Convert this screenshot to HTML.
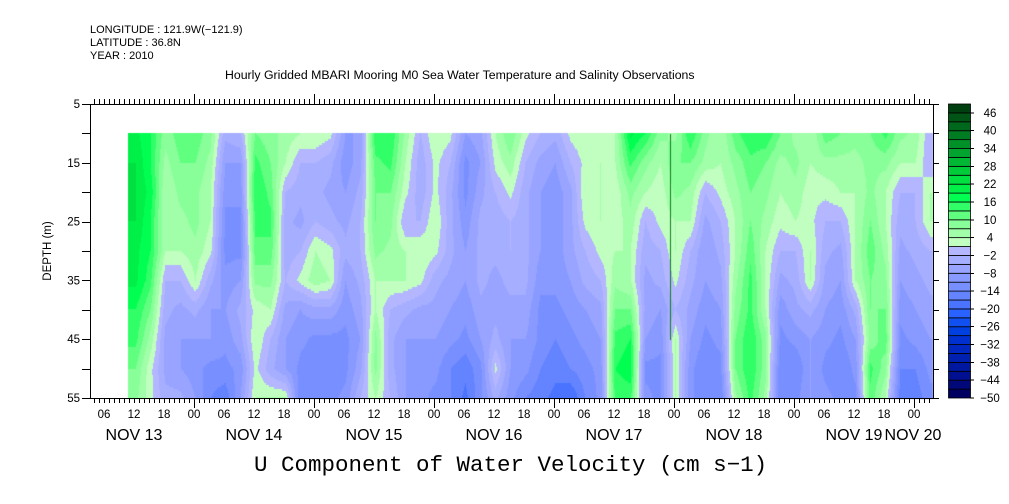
<!DOCTYPE html>
<html><head><meta charset="utf-8"><style>
html,body{margin:0;padding:0;background:#fff;width:1009px;height:504px;overflow:hidden;position:relative;font-family:"Liberation Sans",sans-serif;}
.t{position:absolute;white-space:nowrap;color:#000;}
</style></head><body>
<div class="t" style="left:90px;top:24px;font-size:11px">LONGITUDE : 121.9W(−121.9)</div>
<div class="t" style="left:90px;top:37px;font-size:11px">LATITUDE : 36.8N</div>
<div class="t" style="left:90px;top:50px;font-size:11px">YEAR : 2010</div>
<div class="t" style="left:225px;top:68px;font-size:12.3px">Hourly Gridded MBARI Mooring M0 Sea Water Temperature and Salinity Observations</div>
<div class="t" style="left:254px;top:452px;font-size:22.5px;font-family:'Liberation Mono',monospace">U Component of Water Velocity (cm s−1)</div>
<canvas id="cv" width="1009" height="504" style="position:absolute;left:0;top:0"></canvas>
<svg id="sv" width="1009" height="504" style="position:absolute;left:0;top:0"></svg>
<script>
// depths of grid rows (m)
const depths=[10,15,20,25,30,35,40,45,50,55];
// start hour of data (hours after Nov 13 00:00), 3-hour columns
const startHour=10.8;
const colHours=3;
// velocity values (cm/s), each row = one 3-hour column, top to bottom depths
const values=[
[20,22,22,22,20,20,16,14,10,8],[16,16,18,16,16,14,10,6,2,2],[8,6,4,4,4,-2,-4,-6,-6,-4],[12,10,8,6,4,-2,-6,-8,-8,-4],
[12,10,8,8,6,4,-4,-8,-10,-8],[8,6,4,4,2,-4,-8,-8,-12,-14],[-4,-8,-10,-12,-12,-10,-8,-10,-12,-16],[-2,-8,-10,-12,-12,-8,-4,-6,-10,-8],
[10,14,16,14,12,8,2,4,2,4],[8,10,12,14,12,8,4,-2,-4,4],[6,4,-2,-4,-4,-2,-6,-8,-8,4],[4,-2,-4,-6,-2,2,-8,-10,-12,-14],
[4,-2,-4,-2,4,6,-6,-12,-14,-14],[2,-4,-6,-4,2,4,-6,-12,-14,-12],[-8,-10,-8,-6,-4,-8,-10,-12,-12,-10],[-8,-6,-4,-2,-2,-4,-6,-8,-6,-2],
[16,12,10,10,8,4,4,8,8,4],[16,14,10,8,6,4,-2,-4,-4,-2],[6,4,2,-2,4,4,-4,-8,-8,-8],[-2,-4,-4,-2,4,2,-6,-8,-10,-10],
[4,2,2,4,2,-4,-6,-8,-10,-12],[2,-2,-4,-4,-4,-6,-8,-10,-14,-14],[-8,-12,-12,-10,-8,-8,-10,-12,-16,-18],[-6,-8,-6,-4,-4,-4,-6,-8,-12,-12],
[4,2,-2,-4,-4,-6,-6,-4,2,-4],[10,6,2,-2,-2,-4,-6,-8,-8,-10],[2,-2,-4,-4,-4,-4,-6,-8,-10,-14],[-2,-6,-8,-8,-8,-10,-12,-12,-14,-16],
[-4,-8,-10,-10,-10,-10,-12,-14,-16,-18],[2,-2,-6,-6,-6,-8,-10,-12,-14,-20],[4,2,4,2,-2,-4,-8,-10,-12,-14],[2,4,4,4,2,-2,-6,-8,-10,-10],
[4,4,2,2,4,6,10,14,16,14],[20,14,8,6,4,4,10,16,18,14],[16,8,4,-2,-4,-6,-6,-8,-12,-10],[8,4,2,2,-2,-4,-8,-10,-12,-12],
[6,10,8,4,4,2,-2,4,4,4],[16,10,6,4,-2,-4,-6,-8,-10,-10],[8,6,-2,-6,-8,-8,-10,-12,-14,-14],[4,4,2,-2,-4,-6,-8,-10,-12,-14],
[12,8,6,4,4,6,8,10,10,6],[16,12,10,10,12,14,14,16,16,14],[16,10,8,6,4,4,4,8,8,6],[10,6,4,2,-2,-6,-10,-12,-14,-14],
[6,8,6,4,-2,-4,-6,-10,-14,-12],[4,4,2,2,4,4,-4,-8,-8,-8],[12,6,2,-2,-4,-6,-8,-10,-12,-10],[10,6,4,-2,-6,-8,-10,-12,-14,-12],
[8,6,4,4,4,4,-4,-8,-10,-12],[10,8,8,10,12,10,10,8,14,12],[14,8,4,4,6,8,10,12,8,4],[8,4,-2,-4,-6,-8,-10,-12,-14,-16],
[6,4,-2,-2,-4,-6,-8,-10,-14,-16],[-2,-2,4,4,-2,-4,-6,-8,-10,-12]
];
// colour levels
const levelMin=-50, levelStep=3;
const bandColors=["#000060","#00087a","#001090","#0018a0","#0020b0","#0028c0","#0030d0","#0040e0","#1050f0","#2a62ff","#4a74ff","#6484ff","#7890ff","#889aff","#98a4ff","#a6aeff","#b4b6ff",
"#c0ffc0","#a0ffa8","#88ff98","#60ff80","#30ff68","#00ff50","#00f048","#00e040","#00cc3a","#00b834","#00a42e","#009028","#007c22","#00681c","#005416","#004010"];
const cbLabels=[46,40,34,28,22,16,10,4,-2,-8,-14,-20,-26,-32,-38,-44,-50];
const depthTicks=[5,15,25,35,45,55];
const hourLabels=["06","12","18","00"];
const dayLabels=["NOV 13","NOV 14","NOV 15","NOV 16","NOV 17","NOV 18","NOV 19","NOV 20"];

const X0=90,X1=933,Y0=104,Y1=398,T0=74,PXH=5;
const xOf=h=>T0+h*PXH;
const yOf=d=>Y0+(d-5)*(Y1-Y0)/50;
function colorFor(v){let i=Math.floor((v-levelMin)/levelStep);i=Math.max(0,Math.min(bandColors.length-1,i));return bandColors[i];}

const ctx=document.getElementById('cv').getContext('2d');
const dx0=xOf(startHour), dx1=X1;
const yTop=yOf(depths[0]), yBot=yOf(depths[depths.length-1]);
for(let x=Math.round(dx0);x<dx1;x++){
  const h=(x+0.5-T0)/PXH;
  let fc=(h-startHour)/colHours-0.5; fc=Math.max(0,Math.min(values.length-1,fc));
  const c0=Math.floor(fc),c1=Math.min(values.length-1,c0+1),tc=fc-c0;
  for(let y=Math.round(yTop);y<yBot;y+=2){
    const d=5+(y+1-Y0)*50/(Y1-Y0);
    let fr=(d-depths[0])/(depths[1]-depths[0]); fr=Math.max(0,Math.min(depths.length-1,fr));
    const r0=Math.floor(fr),r1=Math.min(depths.length-1,r0+1),tr=fr-r0;
    const v=(values[c0][r0]*(1-tr)+values[c0][r1]*tr)*(1-tc)+(values[c1][r0]*(1-tr)+values[c1][r1]*tr)*tc;
    ctx.fillStyle=colorFor(v);ctx.fillRect(x,y,1,2);
  }
}
ctx.fillStyle="#108020";ctx.fillRect(670,134,1,206);

const sv=document.getElementById('sv');const NS="http://www.w3.org/2000/svg";
function mk(tag,a,par){const e=document.createElementNS(NS,tag);for(const k in a)e.setAttribute(k,a[k]);(par||sv).appendChild(e);return e;}
function ln(x1,y1,x2,y2){return mk('line',{x1,y1,x2,y2,stroke:'#000','stroke-width':1,'shape-rendering':'crispEdges'});}
function tx(x,y,s,size,anchor,fam){const e=mk('text',{x,y,'font-size':size,'text-anchor':anchor,'font-family':fam||'Liberation Sans, sans-serif'});e.textContent=s;return e;}
const fr=mk('rect',{x:X0+0.5,y:Y0+0.5,width:X1-X0,height:Y1-Y0,fill:'none',stroke:'#000','shape-rendering':'crispEdges'});


for(let h=0;h<=200;h++){const x=xOf(h)+0.5;if(x<X0||x>X1)continue;const major=h%24===0;const mid=h%6===0;
  ln(x,Y0,x,Y0-(major?10:5));ln(x,Y1,x,Y1+(major?10:5));
  if(mid){const l=tx(xOf(h),418,hourLabels[(h/6-1+4)%4],11.5,'middle');}
}
dayLabels.forEach((s,i)=>{let c=xOf(12+24*i);if(i===dayLabels.length-1)c=913;const l=tx(c,440,s,16,'middle');});
for(let d=5;d<=55;d+=5){const y=Math.round(yOf(d))+0.5;ln(X0-8,y,X0,y);ln(X1,y,X1+6,y);}
depthTicks.forEach(d=>{const l=tx(80,yOf(d)+4,String(d),11.5,'end');});
const yl=tx(0,0,'DEPTH (m)',11.5,'middle');yl.setAttribute('transform','translate(51,251) rotate(-90)');


const CBX=948,CBW=22,n=bandColors.length,bh=(Y1-Y0)/n;
bandColors.forEach((c,i)=>{const r=mk('rect',{x:CBX+0.5,y:Y1-(i+1)*bh,width:CBW,height:bh,fill:c,stroke:'#000','stroke-width':0.8});
  });
cbLabels.forEach(v=>{const y=Y1-((v-levelMin)/levelStep)*bh;ln(CBX+CBW,y,CBX+CBW+4,y);
  const l=tx(990,y+4,v<0?'−'+(-v):String(v),11.5,'middle');});
</script>
</body></html>
